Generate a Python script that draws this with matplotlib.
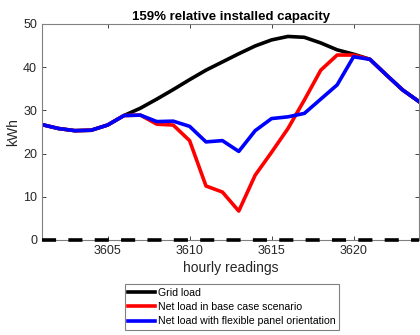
import matplotlib.pyplot as plt

plt.rcParams['font.family'] = ['Liberation Sans', 'DejaVu Sans']

# hourly readings and loads (kWh)
hours = list(range(3601, 3625))
grid_load = [26.7, 25.8, 25.3, 25.4, 26.6, 28.8, 30.5, 32.6, 34.8, 37.1, 39.3, 41.2,
             43.1, 44.9, 46.3, 47.1, 46.9, 45.6, 44.0, 43.0, 41.8, 38.2, 34.7, 32.0]
net_base = [26.7, 25.8, 25.3, 25.4, 26.6, 28.8, 28.9, 26.8, 26.6, 23.0, 12.5, 11.1,
            6.7, 15.0, 20.3, 25.8, 32.4, 39.3, 42.8, 42.8, 41.8, 38.2, 34.7, 32.0]
net_flex = [26.7, 25.8, 25.3, 25.4, 26.6, 28.8, 28.9, 27.4, 27.5, 26.3, 22.7, 23.0,
            20.5, 25.3, 28.1, 28.5, 29.3, 32.6, 35.9, 42.4, 41.8, 38.2, 34.7, 32.0]
zero_line = [0] * len(hours)

grey = '#262626'
fig = plt.figure(figsize=(4.2, 3.35), dpi=100)
ax = fig.add_axes([0.1, 0.2836, 0.898, 0.645])

l1, = ax.plot(hours, grid_load, color='black', lw=2.6, label='Grid load')
l2, = ax.plot(hours, net_base, color='red', lw=2.6, label='Net load in base case scenario')
l3, = ax.plot(hours, net_flex, color='blue', lw=2.6, label='Net load with flexible panel orientation')
ax.plot(hours, zero_line, color='black', lw=2.6, dashes=(3.9, 3.4),
        dash_capstyle='butt', clip_on=False, zorder=5)

ax.set_xlim(3601, 3624)
ax.set_ylim(0, 50)
ax.set_xticks([3605, 3610, 3615, 3620])
ax.set_yticks([0, 10, 20, 30, 40, 50])
ax.tick_params(direction='in', top=True, right=True, labelsize=9, colors=grey,
               length=3, width=0.6)
for s in ax.spines.values():
    s.set_color('#808080')
    s.set_linewidth(0.8)

ax.set_title('159% relative installed capacity', fontsize=9.5, fontweight='bold', pad=3)
ax.set_xlabel('hourly readings', fontsize=10, color=grey, labelpad=3)
ax.set_ylabel('kWh', fontsize=10, color=grey, labelpad=2)

leg = fig.legend(handles=[l1, l2, l3], loc='center', bbox_to_anchor=(0.552, 0.0836),
                 fontsize=7.6, handlelength=2.5, handletextpad=0.3, labelspacing=0.42,
                 borderpad=0.35, borderaxespad=0, fancybox=False, framealpha=1)
leg.get_frame().set_edgecolor('#808080')
leg.get_frame().set_linewidth(0.8)
for h in leg.legend_handles:
    h.set_linewidth(2.6)

plt.savefig('out.png')
